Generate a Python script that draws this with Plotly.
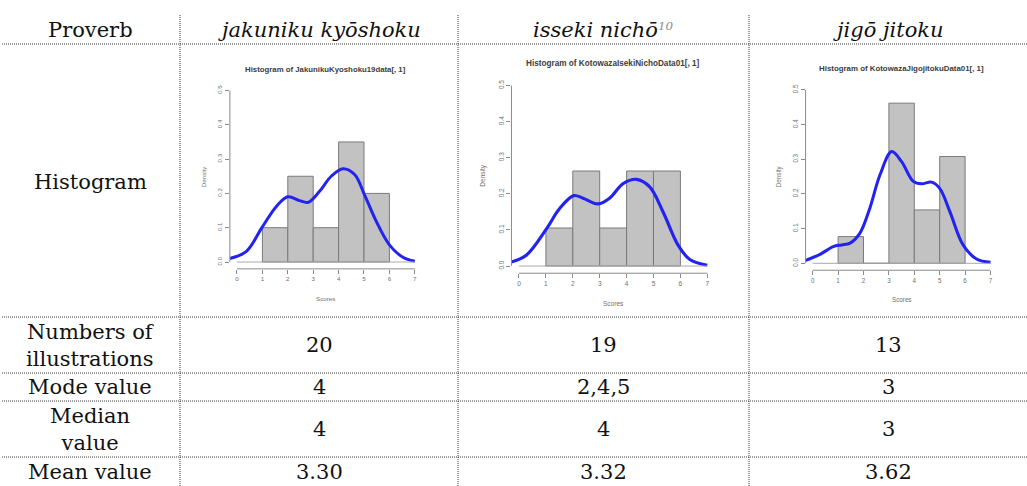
import plotly.graph_objects as go

W, H = 1027, 486

# ---------------- table content ----------------
row_labels = ["Proverb", "Histogram", "Numbers of<br>illustrations",
              "Mode value", "Median<br>value", "Mean value"]
proverb_names = ["jakuniku kyōshoku", "isseki nichō", "jigō jitoku"]
proverb_notes = ["", "10", ""]
n_illustrations = [20, 19, 13]
mode_values = ["4", "2,4,5", "3"]
median_values = ["4", "4", "3"]
mean_values = ["3.30", "3.32", "3.62"]

# ---------------- histogram content ----------------
hist_titles = ["Histogram of JakunikuKyoshoku19data[, 1]",
               "Histogram of KotowazaIsekiNichoData01[, 1]",
               "Histogram of KotowazaJigojitokuData01[, 1]"]
bin_edges = [1, 2, 3, 4, 5, 6]
counts_jakuniku = [2, 5, 2, 7, 4]
counts_isseki = [2, 5, 2, 5, 5]
counts_jigo = [1, 0, 6, 2, 4]

# kernel density curves (score, density)
dens_x_jakuniku = [-0.29, 0.37, 0.98, 1.55, 2.0, 2.46, 2.8, 3.25, 3.71, 4.17, 4.63, 5.02, 5.48, 6.0, 6.53, 7.0]
dens_y_jakuniku = [0.010, 0.031, 0.100, 0.162, 0.190, 0.179, 0.174, 0.206, 0.250, 0.272, 0.255, 0.196, 0.119, 0.050, 0.014, 0.002]
dens_x_isseki = [-0.29, 0.27, 1.02, 1.51, 2.03, 2.38, 2.94, 3.37, 3.87, 4.37, 4.86, 5.36, 5.92, 6.35, 7.0]
dens_y_isseki = [0.011, 0.030, 0.103, 0.159, 0.195, 0.188, 0.172, 0.188, 0.228, 0.240, 0.219, 0.149, 0.057, 0.018, 0.002]
dens_x_jigo = [-0.3, 0.29, 0.81, 1.14, 1.47, 1.86, 2.25, 2.65, 3.11, 3.5, 3.96, 4.29, 4.68, 5.0, 5.4, 5.92, 6.45, 7.0]
dens_y_jigo = [0.008, 0.026, 0.048, 0.053, 0.058, 0.087, 0.159, 0.255, 0.322, 0.293, 0.236, 0.229, 0.234, 0.216, 0.149, 0.053, 0.0125, 0.003]

x_ticks = [0, 1, 2, 3, 4, 5, 6, 7]
y_ticks = [0.0, 0.1, 0.2, 0.3, 0.4, 0.5]
x_label = "Scores"
y_label = "Density"

counts_all = [counts_jakuniku, counts_isseki, counts_jigo]
dens_all = [(dens_x_jakuniku, dens_y_jakuniku),
            (dens_x_isseki, dens_y_isseki),
            (dens_x_jigo, dens_y_jigo)]

# ---------------- page geometry (pixels) ----------------
col_lines = [180, 458, 749]
row_lines = [44, 317, 373, 401, 457]
col_centers = [90, 319, 603, 888]
row_centers = [30, 182, 345, 387, 429, 472]

# pixel position of score 0, pixels per score unit, pixel of density 0, pixels per density unit
panels = [dict(x0=237.0, ux=25.4, y0=262.0, uy=343.0),
          dict(x0=519.0, ux=26.9, y0=266.0, uy=361.0),
          dict(x0=812.7, ux=25.4, y0=263.3, uy=347.0)]
x_range = [-0.28, 7.28]
y_range = [-0.02, 0.52]


def px_x(p):
    return p / W


def px_y(p):
    return 1 - p / H


SERIF = "DejaVu Serif, Georgia, serif"
SANS = "Liberation Sans, Arial, sans-serif"
AXIS_GREY = "#8a8a8a"
TEXT_GREY = "#6e6e6e"

fig = go.Figure()
shapes = []
annotations = []
layout_axes = {}

for k, (pan, counts, (dx, dy), title) in enumerate(zip(panels, counts_all, dens_all, hist_titles), start=1):
    sfx = "" if k == 1 else str(k)
    xref, yref = "x" + sfx, "y" + sfx
    n = n_illustrations[k - 1]
    scale = pan["uy"] / 343.0

    left = pan["x0"] + x_range[0] * pan["ux"]
    right = pan["x0"] + x_range[1] * pan["ux"]
    bottom = pan["y0"] - y_range[0] * pan["uy"]
    top = pan["y0"] - y_range[1] * pan["uy"]

    mids = [(a + b) / 2 for a, b in zip(bin_edges[:-1], bin_edges[1:])]
    widths = [b - a for a, b in zip(bin_edges[:-1], bin_edges[1:])]
    dens = [c / (n * w) for c, w in zip(counts, widths)]

    fig.add_trace(go.Bar(
        x=mids, y=dens, width=widths, xaxis=xref, yaxis=yref,
        marker=dict(color="#c2c2c2", line=dict(color="#7a7a7a", width=1)),
        showlegend=False, hoverinfo="skip"))
    fig.add_trace(go.Scatter(
        x=dx, y=dy, mode="lines", xaxis=xref, yaxis=yref,
        line=dict(color="#2323f0", width=3.0 * scale, shape="spline", smoothing=1.0),
        showlegend=False, hoverinfo="skip"))

    tickfont = dict(family=SANS, size=6.2 * scale, color=TEXT_GREY)
    layout_axes["xaxis" + sfx] = dict(
        domain=[px_x(left), px_x(right)], range=x_range, anchor=yref,
        tickvals=x_ticks, ticktext=[str(v) for v in x_ticks],
        ticks="outside", ticklen=4 * scale, tickwidth=1, tickcolor=AXIS_GREY,
        showline=False, showgrid=False, zeroline=False, tickfont=tickfont,
        fixedrange=True)
    layout_axes["yaxis" + sfx] = dict(
        domain=[px_y(bottom), px_y(top)], range=y_range, anchor=xref,
        tickvals=y_ticks, ticktext=[f"{v:.1f}" for v in y_ticks], tickangle=-90,
        ticks="outside", ticklen=4 * scale, tickwidth=1, tickcolor=AXIS_GREY,
        showline=False, showgrid=False, zeroline=False, tickfont=tickfont,
        fixedrange=True)

    # R-style axis lines spanning first to last tick
    shapes.append(dict(type="line", xref=xref, yref=yref + " domain",
                       x0=x_ticks[0], x1=x_ticks[-1], y0=0, y1=0,
                       line=dict(color=AXIS_GREY, width=1)))
    shapes.append(dict(type="line", xref=xref + " domain", yref=yref,
                       x0=0, x1=0, y0=y_ticks[0], y1=y_ticks[-1],
                       line=dict(color=AXIS_GREY, width=1)))
    # baseline under the bars
    shapes.append(dict(type="line", xref=xref, yref=yref,
                       x0=x_ticks[0], x1=x_ticks[-1], y0=0, y1=0,
                       line=dict(color="#a8a8a8", width=1)))

    cx = px_x((left + right) / 2)
    annotations.append(dict(text="<b>" + title + "</b>", xref="paper", yref="paper",
                            x=cx, y=px_y(top - 0.042 * pan["uy"]),
                            xanchor="center", yanchor="middle", showarrow=False,
                            font=dict(family=SANS, size=7.8 * scale, color="#3c3c3c")))
    annotations.append(dict(text=x_label, xref="paper", yref="paper",
                            x=cx, y=px_y(bottom + 0.085 * pan["uy"]),
                            xanchor="center", yanchor="middle", showarrow=False,
                            font=dict(family=SANS, size=6.2 * scale, color=TEXT_GREY)))
    annotations.append(dict(text=y_label, xref="paper", yref="paper",
                            x=px_x(left - 1.06 * pan["ux"]), y=px_y((top + bottom) / 2),
                            xanchor="center", yanchor="middle", showarrow=False, textangle=-90,
                            font=dict(family=SANS, size=6.2 * scale, color=TEXT_GREY)))

# ---------------- table grid ----------------
GRID = dict(color="#3a3a3a", width=1, dash="1px,1px")
for yl in row_lines:
    shapes.append(dict(type="line", xref="paper", yref="paper",
                       x0=px_x(2), x1=1, y0=px_y(yl), y1=px_y(yl), line=GRID, layer="above"))
for xl in col_lines:
    shapes.append(dict(type="line", xref="paper", yref="paper",
                       x0=px_x(xl), x1=px_x(xl), y0=px_y(15), y1=0, line=GRID, layer="above"))

# ---------------- table text ----------------
CELL_FONT = dict(family=SERIF, size=21, color="#111111")


def cell(text, col, row):
    annotations.append(dict(text=text, xref="paper", yref="paper",
                            x=px_x(col_centers[col]), y=px_y(row_centers[row]),
                            xanchor="center", yanchor="middle", showarrow=False,
                            font=CELL_FONT, align="center"))


for r, lab in enumerate(row_labels):
    cell(lab, 0, r)

for c, (name, note) in enumerate(zip(proverb_names, proverb_notes), start=1):
    txt = "<i>" + name
    if note:
        txt += "<span style='color:#8c8c8c;font-size:17px'><sup>" + note + "</sup></span>"
    txt += "</i>"
    cell(txt, c, 0)

for c in range(3):
    cell(str(n_illustrations[c]), c + 1, 2)
    cell(mode_values[c], c + 1, 3)
    cell(median_values[c], c + 1, 4)
    cell(mean_values[c], c + 1, 5)

fig.update_layout(
    width=W, height=H,
    margin=dict(l=0, r=0, t=0, b=0),
    paper_bgcolor="white", plot_bgcolor="rgba(0,0,0,0)",
    shapes=shapes, annotations=annotations,
    showlegend=False, barmode="overlay",
    **layout_axes)

fig.write_html("out.html")
